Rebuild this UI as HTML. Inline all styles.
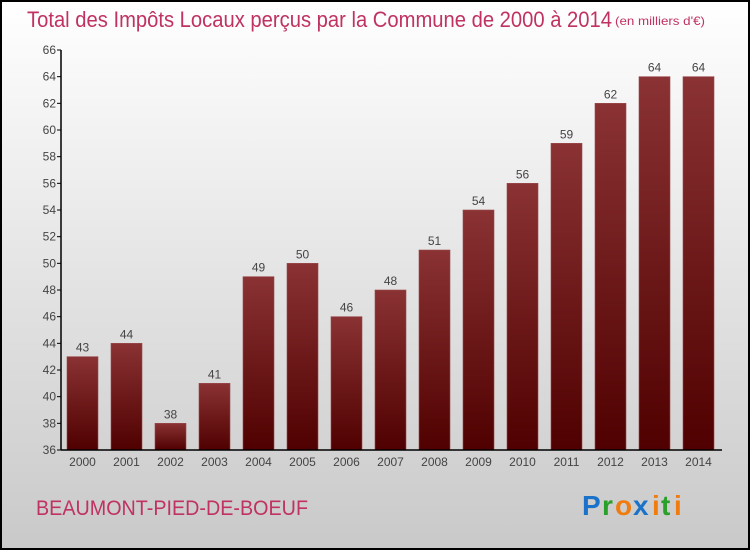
<!DOCTYPE html>
<html><head><meta charset="utf-8"><style>
body{margin:0}
#wrap{width:750px;height:550px;position:relative;overflow:hidden}
text{font-family:"Liberation Sans",sans-serif}
</style></head><body>
<div id="wrap">
<svg id="chart" width="750" height="550">
<defs>
<linearGradient id="bg" x1="0" y1="0" x2="0" y2="1"><stop offset="0" stop-color="#ffffff"/><stop offset="1" stop-color="#c9c9c9"/></linearGradient>
<linearGradient id="bar" x1="0" y1="0" x2="0" y2="1"><stop offset="0" stop-color="#8a3234"/><stop offset="1" stop-color="#500000"/></linearGradient>
</defs>
<rect x="1" y="1" width="748" height="548" fill="url(#bg)" stroke="#000" stroke-width="2"/>
<text x="27" y="27" font-size="22" fill="#c0325f" textLength="585" lengthAdjust="spacingAndGlyphs">Total des Impôts Locaux perçus par la Commune de 2000 à 2014</text>
<text x="615" y="25" font-size="12" fill="#c0325f" textLength="90" lengthAdjust="spacingAndGlyphs">(en milliers d'€)</text>
<text x="36" y="515" font-size="21" fill="#c0325f" textLength="272" lengthAdjust="spacingAndGlyphs">BEAUMONT-PIED-DE-BOEUF</text>
<g font-size="28" font-weight="bold">
<text x="582" y="515" fill="#1a73c8">P</text><text x="602" y="515" fill="#2aa02a">r</text><text x="615" y="515" fill="#f07c10">o</text><text x="633" y="515" fill="#1a73c8">x</text><text x="652" y="515" fill="#f07c10">i</text><text x="661" y="515" fill="#2aa02a">t</text><text x="674" y="515" fill="#f07c10">i</text>
</g>
<g id="plot"></g>
</svg></div>
<script>
const categories=["2000","2001","2002","2003","2004","2005","2006","2007","2008","2009","2010","2011","2012","2013","2014"];
const values=[43,44,38,41,49,50,46,48,51,54,56,59,62,64,64];
const yTicks=[36,38,40,42,44,46,48,50,52,54,56,58,60,62,64,66];
const ns="http://www.w3.org/2000/svg";
const g=document.getElementById('plot');
const yMin=36,yMax=66,plotTop=50,plotBot=450,x0=61;
const y=v=>plotBot-(v-yMin)/(yMax-yMin)*(plotBot-plotTop);
const x=i=>82.5+i*44;
function mk(t,a){const e=document.createElementNS(ns,t);for(const k in a)e.setAttribute(k,a[k]);g.appendChild(e);return e;}
values.forEach((v,i)=>{
 const r=mk('rect',{x:x(i)-15.5,y:y(v),width:31,height:plotBot-y(v),fill:'url(#bar)',stroke:'#9a4a4c','stroke-width':0.6});
 
 
 const t=mk('text',{x:x(i),y:y(v)-5,'font-size':12,fill:'#444','text-anchor':'middle'});t.textContent=v;
 
 
 const c=mk('text',{x:x(i),y:plotBot+16,'font-size':12,fill:'#444','text-anchor':'middle'});c.textContent=categories[i];
 
 
});
yTicks.forEach(v=>{
 const l=mk('line',{x1:x0-4,x2:x0,y1:y(v),y2:y(v),stroke:'#000'});
 
 
 const t=mk('text',{x:x0-5,y:y(v)+4,'font-size':12,fill:'#444','text-anchor':'end'});t.textContent=v;
 
 
});
const ya=mk('line',{x1:x0,x2:x0,y1:plotTop,y2:plotBot,stroke:'#000','stroke-width':1.5});


const xa=mk('line',{x1:x0,x2:722,y1:plotBot,y2:plotBot,stroke:'#000','stroke-width':1.5});


</script>
</body></html>
